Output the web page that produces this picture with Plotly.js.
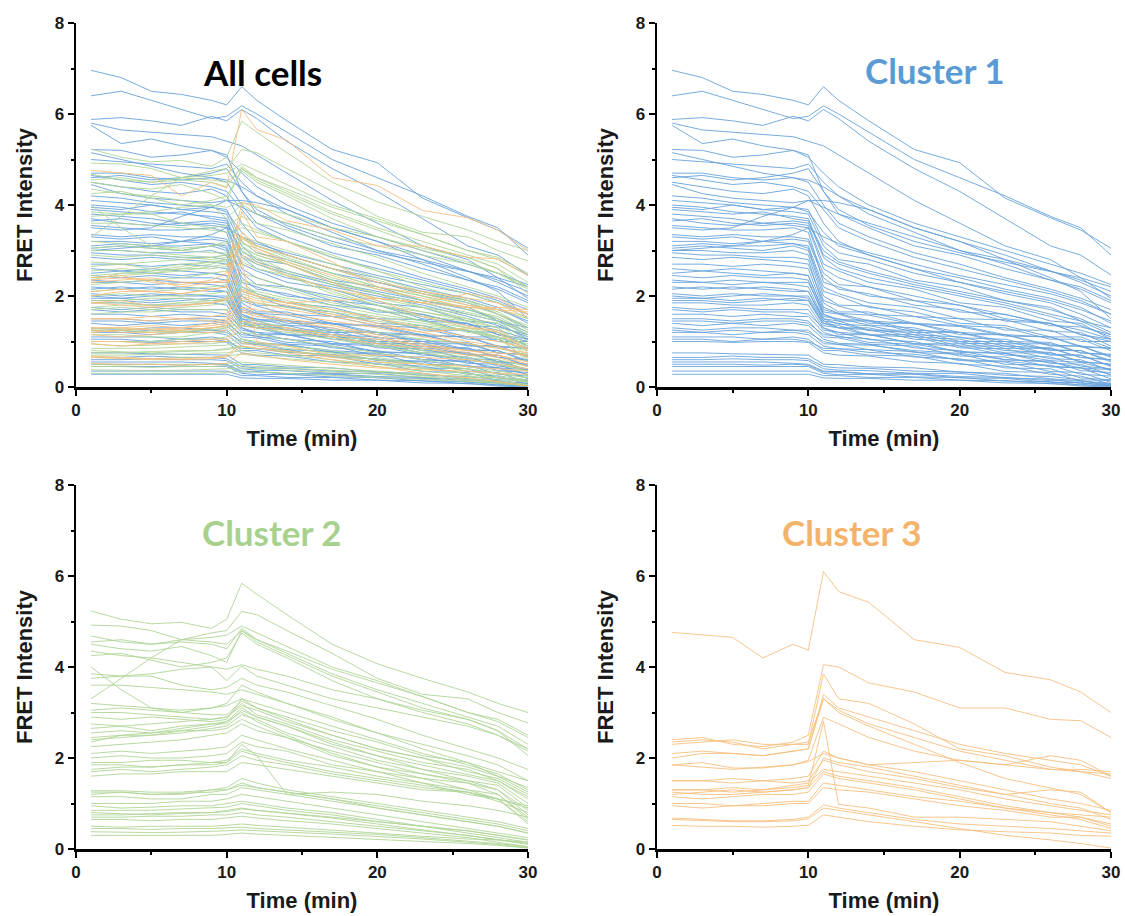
<!DOCTYPE html>
<html><head><meta charset="utf-8">
<script src="https://cdn.plot.ly/plotly-3.0.1.min.js"></script>
<style>html,body{margin:0;padding:0;background:#fff}#chart{width:1125px;height:916px}</style>
</head><body><div id="chart"></div>
<script>
// Time points (min) at which each trace is sampled
const timeMin = [1,3,5,7,9,10,11,12,14,17,20,23,26,28,30];
const panelTitles = ['All cells','Cluster 1','Cluster 2','Cluster 3'];
const xTickVals = [0,10,20,30];
const yTickVals = [0,2,4,6,8];
const xAxisTitle = 'Time (min)';
const yAxisTitle = 'FRET Intensity';

// Cluster 1 (blue) FRET intensity traces
const cluster1 = [
 [6.96,6.8,6.5,6.43,6.3,6.2,6.6,6.3,5.85,5.22,4.93,4.15,3.72,3.45,3.05],
 [6.4,6.5,6.3,6.1,5.9,5.95,6.18,6.0,5.6,5.0,4.6,4.2,3.75,3.5,2.9],
 [5.88,5.92,5.85,5.75,5.95,5.85,6.1,5.9,5.4,4.8,4.3,3.7,3.1,2.9,2.46],
 [5.8,5.65,5.6,5.55,5.5,5.4,5.3,5.1,4.7,4.1,3.6,3.1,2.8,2.4,1.95],
 [5.75,5.35,5.45,5.3,5.2,5.05,4.7,4.4,4.0,3.6,3.3,3.0,2.7,2.5,2.25],
 [5.22,5.2,5.05,5.1,5.2,5.1,4.3,3.8,3.5,3.1,2.9,2.6,2.35,2.2,1.9],
 [5.15,5.0,4.85,4.7,4.6,4.55,4.4,4.2,3.9,3.5,3.2,2.8,2.4,2.1,1.5],
 [5.0,4.95,4.9,4.85,4.8,4.9,4.5,4.2,3.8,3.4,3.0,2.7,2.35,2.15,1.85],
 [4.7,4.7,4.6,4.55,4.6,4.5,4.0,3.6,3.3,2.95,2.7,2.4,2.15,1.95,1.7],
 [4.65,4.55,4.45,4.5,4.4,4.3,3.9,3.5,3.2,2.85,2.6,2.35,2.1,1.9,1.6],
 [4.5,4.4,4.3,4.25,4.35,4.2,3.6,3.2,2.9,2.6,2.3,2.05,1.85,1.6,1.3],
 [4.45,4.25,4.15,4.1,4.05,4.1,4.1,4.05,3.9,3.5,3.2,2.9,2.55,2.35,2.1],
 [4.2,4.15,4.05,4.0,3.95,3.9,3.2,2.95,2.8,2.5,2.3,2.1,1.9,1.7,1.45],
 [4.1,4.05,4.0,3.9,3.95,3.85,3.4,3.1,2.9,2.6,2.4,2.15,1.95,1.75,1.4],
 [4.0,3.95,3.85,3.8,3.75,3.7,2.9,2.7,2.5,2.25,2.05,1.85,1.6,1.45,1.15],
 [3.9,3.85,3.8,3.85,3.7,3.65,2.85,2.6,2.4,2.2,2.0,1.8,1.55,1.35,1.1],
 [3.8,3.75,3.7,3.6,3.55,3.5,2.6,2.4,2.2,2.0,1.8,1.6,1.4,1.25,1.05],
 [3.7,3.6,3.55,3.6,3.65,3.6,3.0,2.75,2.55,2.3,2.1,1.9,1.7,1.5,1.2],
 [3.55,3.5,3.45,3.45,3.5,3.4,2.3,2.2,2.0,1.9,1.65,1.6,1.35,1.32,1.15],
 [3.5,3.45,3.5,3.75,3.95,4.1,3.95,3.8,3.6,3.3,3.0,2.8,2.55,2.3,2.0],
 [3.3,3.25,3.3,3.2,3.25,3.2,2.4,2.15,2.05,1.8,1.7,1.45,1.4,1.15,1.05],
 [3.2,3.2,3.15,3.2,3.15,3.1,2.2,2.05,1.85,1.75,1.5,1.48,1.22,1.2,0.9],
 [3.05,3.1,3.05,3.0,3.1,3.0,2.0,1.8,1.78,1.55,1.5,1.25,1.25,1.0,1.0],
 [3.0,3.0,2.95,2.95,3.0,2.9,1.9,1.78,1.6,1.55,1.35,1.3,1.05,1.05,0.8],
 [2.95,2.9,2.9,2.85,2.85,2.8,1.75,1.62,1.58,1.38,1.33,1.12,1.1,0.88,0.85],
 [2.7,2.7,2.65,2.7,2.65,2.6,1.7,1.62,1.45,1.4,1.2,1.15,0.92,0.9,0.68],
 [2.6,2.55,2.6,2.55,2.5,2.45,1.6,1.48,1.47,1.25,1.2,1.0,0.98,0.75,0.72],
 [2.45,2.4,2.45,2.4,2.4,2.35,1.55,1.5,1.36,1.3,1.08,1.05,0.82,0.8,0.58],
 [2.3,2.3,2.25,2.3,2.25,2.2,1.5,1.38,1.35,1.15,1.1,0.9,0.86,0.65,0.6],
 [2.2,2.15,2.2,2.15,2.1,2.1,1.45,1.4,1.24,1.2,0.96,0.95,0.72,0.7,0.46],
 [2.05,2.0,2.05,2.0,2.0,1.95,1.4,1.3,1.26,1.05,1.0,0.8,0.76,0.56,0.5],
 [1.95,1.95,1.9,1.95,1.9,1.9,1.35,1.3,1.14,1.1,0.86,0.84,0.62,0.6,0.36],
 [1.85,1.85,1.8,1.8,1.85,1.8,1.3,1.2,1.16,0.95,0.9,0.7,0.66,0.46,0.4],
 [1.75,1.7,1.75,1.7,1.7,1.7,1.25,1.2,1.04,1.0,0.76,0.74,0.52,0.5,0.26],
 [1.6,1.6,1.55,1.6,1.55,1.55,1.2,1.1,1.06,0.86,0.8,0.6,0.57,0.36,0.32],
 [1.5,1.5,1.45,1.5,1.5,1.45,1.1,1.08,0.94,0.9,0.68,0.66,0.44,0.42,0.18],
 [1.4,1.35,1.4,1.35,1.4,1.35,1.05,0.96,0.94,0.76,0.72,0.5,0.48,0.28,0.24],
 [1.3,1.25,1.3,1.3,1.25,1.25,0.95,0.94,0.82,0.78,0.58,0.55,0.34,0.32,0.1],
 [1.2,1.2,1.15,1.2,1.2,1.15,0.9,0.84,0.82,0.66,0.62,0.42,0.4,0.2,0.16],
 [1.1,1.1,1.1,1.05,1.1,1.05,0.8,0.8,0.7,0.68,0.5,0.46,0.28,0.24,0.06],
 [1.0,1.0,0.98,1.0,1.0,0.98,0.75,0.7,0.68,0.55,0.52,0.34,0.32,0.13,0.08],
 [0.75,0.75,0.73,0.72,0.72,0.7,0.5,0.49,0.44,0.42,0.33,0.3,0.18,0.14,0.03],
 [0.6,0.6,0.62,0.6,0.6,0.58,0.4,0.37,0.36,0.3,0.3,0.2,0.17,0.08,0.05],
 [0.55,0.55,0.55,0.55,0.52,0.5,0.35,0.34,0.29,0.28,0.2,0.19,0.1,0.1,0.02],
 [0.45,0.45,0.45,0.45,0.45,0.45,0.3,0.27,0.28,0.22,0.21,0.13,0.12,0.04,0.03],
 [0.35,0.35,0.35,0.35,0.35,0.35,0.25,0.25,0.21,0.21,0.15,0.14,0.07,0.06,0.01],
 [0.28,0.28,0.28,0.28,0.28,0.28,0.2,0.19,0.19,0.15,0.15,0.09,0.08,0.02,0.0],
 [3.95,3.9,4.0,3.9,3.85,3.8,3.1,2.8,2.7,2.35,2.2,1.9,1.75,1.45,1.3],
 [3.65,3.7,3.6,3.55,3.6,3.55,2.7,2.55,2.3,2.15,1.85,1.75,1.45,1.4,1.05],
 [3.35,3.3,3.35,3.3,3.3,3.25,2.5,2.25,2.2,1.9,1.8,1.5,1.4,1.15,1.0],
 [3.1,3.15,3.1,3.1,3.15,3.05,2.1,2.0,1.75,1.65,1.4,1.35,1.1,1.1,0.85],
 [2.85,2.8,2.85,2.8,2.75,2.7,1.85,1.65,1.65,1.4,1.35,1.15,1.1,0.9,0.85],
 [2.5,2.55,2.5,2.45,2.5,2.45,1.65,1.6,1.4,1.4,1.15,1.15,0.9,0.9,0.65],
 [2.35,2.3,2.35,2.3,2.3,2.3,1.6,1.45,1.45,1.2,1.2,0.95,0.95,0.75,0.7],
 [2.15,2.2,2.15,2.2,2.15,2.1,1.5,1.45,1.25,1.25,1.0,1.0,0.8,0.8,0.55],
 [2.0,1.95,2.0,2.05,2.0,2.0,1.45,1.3,1.3,1.1,1.05,0.85,0.85,0.65,0.6],
 [1.9,1.9,1.85,1.9,1.95,1.9,1.4,1.35,1.15,1.15,0.9,0.9,0.7,0.7,0.45],
 [1.7,1.65,1.7,1.65,1.65,1.6,1.3,1.15,1.15,0.95,0.95,0.75,0.75,0.55,0.5],
 [1.45,1.45,1.4,1.45,1.45,1.4,1.15,1.12,0.98,0.94,0.78,0.74,0.58,0.54,0.38],
 [1.25,1.2,1.25,1.2,1.25,1.2,1.0,0.93,0.92,0.8,0.74,0.6,0.55,0.42,0.38],
 [1.05,1.05,1.0,1.05,1.05,1.0,0.85,0.84,0.76,0.72,0.6,0.57,0.46,0.42,0.28],
 [0.65,0.65,0.68,0.65,0.65,0.62,0.45,0.42,0.41,0.35,0.33,0.26,0.23,0.16,0.14],
 [0.5,0.5,0.5,0.48,0.5,0.48,0.33,0.33,0.29,0.29,0.23,0.21,0.14,0.13,0.06],
 [4.6,4.65,4.55,4.6,4.7,4.8,4.3,3.9,3.55,3.2,2.95,2.75,2.55,2.4,2.2],
 [3.0,3.05,3.1,3.2,3.35,3.5,3.3,3.15,2.95,2.7,2.45,2.25,2.05,1.85,1.6]
];

// Cluster 2 (green) FRET intensity traces
const cluster2 = [
 [5.23,5.05,4.95,4.98,4.85,5.05,5.84,5.6,5.15,4.5,4.07,3.75,3.45,3.2,3.0],
 [4.92,4.9,4.8,4.6,4.75,4.8,5.22,5.15,4.8,4.3,3.75,3.4,3.3,3.0,2.77],
 [4.68,4.55,4.5,4.6,4.65,4.7,4.9,4.75,4.45,4.0,3.7,3.35,3.0,2.8,2.45],
 [4.5,4.4,4.35,4.45,4.25,4.1,4.8,4.6,4.3,3.85,3.5,3.2,2.9,2.7,2.3],
 [4.35,4.25,4.2,4.1,4.0,3.95,4.05,3.95,3.8,3.5,3.3,3.0,2.75,2.5,2.2],
 [4.25,4.3,4.15,4.0,4.1,4.2,4.75,4.5,4.2,3.7,3.3,3.05,2.85,2.6,2.05],
 [3.3,3.75,4.2,4.6,4.55,4.5,4.8,4.55,4.25,3.8,3.45,3.1,2.85,2.6,2.2],
 [3.85,3.8,3.85,3.95,4.0,3.7,4.02,3.8,3.6,3.3,3.1,2.9,2.7,2.5,2.15],
 [3.75,3.8,3.8,3.6,3.5,3.55,3.75,3.6,3.45,3.15,2.85,2.5,2.2,2.0,1.75],
 [3.6,3.6,3.55,3.5,3.45,3.4,3.5,3.4,3.2,2.9,2.55,2.2,1.9,1.7,1.5],
 [4.0,3.5,3.1,3.0,3.1,3.15,3.3,3.2,3.0,2.7,2.4,2.1,1.85,1.65,1.3],
 [3.05,3.1,3.05,3.0,2.95,2.95,3.25,3.1,2.9,2.6,2.35,2.05,1.9,1.6,1.35],
 [3.0,3.0,2.95,2.9,2.85,2.9,3.15,3.05,2.8,2.5,2.2,2.0,1.7,1.55,1.2],
 [2.75,2.7,2.75,2.8,2.85,2.9,3.2,2.95,2.75,2.4,2.15,1.9,1.75,1.5,1.1],
 [2.55,2.6,2.55,2.6,2.7,2.8,3.1,2.9,2.7,2.3,2.05,1.75,1.6,1.45,1.0],
 [2.45,2.5,2.5,2.55,2.65,2.7,2.95,2.85,2.55,2.25,1.95,1.75,1.5,1.4,0.9],
 [2.4,2.45,2.5,2.6,2.6,2.65,2.85,2.7,2.45,2.15,1.9,1.65,1.5,1.3,0.85],
 [2.35,2.5,2.55,2.65,2.75,2.8,3.0,2.8,2.5,2.1,1.8,1.65,1.45,1.3,0.75],
 [2.25,2.3,2.35,2.4,2.5,2.55,2.75,2.6,2.45,2.05,1.8,1.55,1.45,1.2,0.7],
 [2.1,2.15,2.1,2.15,2.2,2.25,2.5,2.4,2.2,1.95,1.7,1.55,1.3,1.2,0.65],
 [2.0,2.05,2.0,2.0,2.05,2.1,2.35,2.25,2.15,1.85,1.7,1.45,1.3,1.1,0.6],
 [1.9,1.9,1.95,1.95,1.9,1.95,2.2,2.1,1.95,1.8,1.6,1.45,1.2,1.1,0.55],
 [1.85,1.85,1.8,1.85,1.9,1.9,2.3,2.05,1.2,1.25,1.2,1.05,0.95,0.85,0.7],
 [1.7,1.75,1.7,1.75,1.8,1.85,2.05,1.95,1.85,1.65,1.5,1.35,1.25,1.1,0.9],
 [1.6,1.65,1.65,1.7,1.7,1.7,1.9,1.85,1.75,1.6,1.45,1.3,1.25,1.05,0.8],
 [1.28,1.28,1.25,1.25,1.3,1.35,1.55,1.45,1.3,1.15,1.0,0.85,0.7,0.6,0.45],
 [1.25,1.25,1.2,1.2,1.3,1.3,1.45,1.35,1.25,1.1,0.9,0.75,0.6,0.5,0.35],
 [1.15,1.15,1.1,1.1,1.2,1.2,1.35,1.3,1.2,1.05,0.9,0.75,0.6,0.5,0.35],
 [1.0,1.0,1.0,1.05,1.05,1.1,1.2,1.15,1.05,0.9,0.75,0.6,0.45,0.35,0.25],
 [0.95,0.9,0.92,0.95,0.95,1.0,1.05,1.0,0.9,0.8,0.65,0.5,0.4,0.3,0.2],
 [0.85,0.85,0.85,0.88,0.9,0.92,1.0,0.95,0.85,0.75,0.6,0.5,0.35,0.25,0.15],
 [0.8,0.78,0.75,0.78,0.8,0.85,0.9,0.85,0.78,0.68,0.55,0.42,0.3,0.22,0.12],
 [0.7,0.7,0.72,0.72,0.75,0.75,0.8,0.75,0.7,0.6,0.5,0.4,0.3,0.2,0.1],
 [0.65,0.65,0.62,0.65,0.65,0.68,0.72,0.68,0.62,0.55,0.45,0.35,0.25,0.15,0.05],
 [0.5,0.48,0.5,0.5,0.5,0.52,0.55,0.52,0.48,0.42,0.35,0.28,0.22,0.2,0.15],
 [0.45,0.45,0.43,0.45,0.45,0.46,0.48,0.45,0.42,0.38,0.32,0.25,0.18,0.12,0.05],
 [0.38,0.37,0.36,0.37,0.38,0.4,0.42,0.4,0.37,0.33,0.28,0.22,0.15,0.1,0.03],
 [0.3,0.3,0.3,0.3,0.3,0.32,0.35,0.33,0.3,0.27,0.22,0.17,0.12,0.08,0.02],
 [4.55,4.6,4.5,4.55,4.5,4.4,4.85,4.6,4.35,3.95,3.65,3.35,3.0,2.85,2.5],
 [2.65,2.7,2.6,2.7,2.75,2.75,3.05,2.9,2.7,2.35,2.05,1.85,1.65,1.5,1.15],
 [2.9,2.85,2.9,2.85,2.8,2.85,3.3,3.1,2.85,2.5,2.2,2.0,1.8,1.6,1.25],
 [3.2,3.15,3.1,3.05,3.1,3.2,3.6,3.45,3.2,2.85,2.55,2.3,2.05,1.85,1.5],
 [1.2,1.25,1.2,1.22,1.25,1.3,1.4,1.35,1.25,1.1,0.95,0.8,0.65,0.55,0.4],
 [0.75,0.75,0.78,0.8,0.8,0.82,0.88,0.85,0.8,0.7,0.6,0.5,0.4,0.3,0.2],
 [1.75,1.8,1.8,1.85,1.85,1.9,2.15,2.05,1.9,1.7,1.55,1.4,1.25,1.1,0.95]
];

// Cluster 3 (orange) FRET intensity traces
const cluster3 = [
 [4.76,4.7,4.65,4.2,4.5,4.37,6.1,5.66,5.42,4.6,4.43,3.88,3.72,3.45,3.0],
 [2.4,2.45,2.3,2.25,2.35,2.5,4.05,4.0,3.65,3.45,3.1,3.1,2.85,2.82,2.45],
 [2.35,2.4,2.35,2.2,2.3,2.3,3.85,3.3,3.2,2.75,2.2,2.05,1.8,1.7,1.65],
 [2.1,2.15,2.1,2.05,2.15,2.2,3.4,3.1,2.9,2.6,2.3,2.1,1.95,1.85,1.6],
 [2.0,2.1,2.1,2.05,2.15,2.2,3.3,3.05,2.75,2.45,2.15,1.95,1.75,1.7,1.55],
 [1.85,1.8,1.75,1.8,1.85,1.95,2.9,2.75,2.45,2.15,1.95,1.85,2.05,1.95,1.6],
 [1.3,1.3,1.25,1.3,1.35,1.4,2.8,0.98,0.9,0.7,0.7,0.65,0.6,0.5,0.4],
 [1.5,1.5,1.55,1.5,1.55,1.6,2.15,2.0,1.85,1.7,1.5,1.3,1.1,1.0,0.85],
 [1.3,1.3,1.35,1.3,1.4,1.45,1.75,1.7,1.6,1.45,1.3,1.1,0.95,0.85,0.75],
 [1.25,1.2,1.2,1.25,1.3,1.35,1.7,1.6,1.5,1.35,1.15,0.95,0.8,0.7,0.5],
 [1.15,1.1,1.15,1.2,1.2,1.25,1.65,1.55,1.45,1.3,1.1,0.9,0.75,0.65,0.45],
 [1.85,1.9,1.78,1.78,1.85,1.92,2.1,2.0,1.85,1.9,1.95,1.85,1.75,1.75,1.7],
 [1.0,1.0,0.95,1.0,1.05,1.05,1.45,1.4,1.3,1.15,1.05,0.9,0.8,0.75,0.7],
 [0.95,0.9,0.95,0.95,1.0,1.0,1.35,1.3,1.25,1.1,0.95,0.85,0.7,0.7,0.55],
 [0.68,0.65,0.62,0.62,0.65,0.7,0.97,0.9,0.8,0.65,0.55,0.5,0.45,0.4,0.35],
 [0.65,0.63,0.6,0.6,0.62,0.66,0.9,0.85,0.75,0.6,0.45,0.3,0.2,0.12,0.02],
 [0.52,0.5,0.5,0.48,0.5,0.52,0.75,0.7,0.6,0.5,0.42,0.38,0.35,0.3,0.28],
 [1.5,1.5,1.45,1.5,1.45,1.5,1.95,1.85,1.7,1.55,1.35,1.2,1.3,1.25,0.8],
 [1.2,1.25,1.3,1.25,1.3,1.35,2.0,1.9,1.8,1.6,1.4,1.2,1.0,0.9,0.65],
 [2.3,2.35,2.4,2.3,2.3,2.35,3.3,3.0,2.7,2.3,1.9,1.55,1.35,1.2,0.8]
];

const lineColors = ['#68a3da','#b0d597','#f6bf80'];
const titleColors = ['#000000','#5b9bd5','#a9d18e','#f4b36a'];

const W = 1125, H = 916;
// plot-area pixel boxes [left, right, top, bottom]
const boxes = [[76,528,23,387],[657,1111,23,387],[76,528,485,849],[657,1111,485,849]];

const traces = [];
function addCluster(lines, color, axisIdx){
  const sfx = axisIdx === 1 ? '' : String(axisIdx);
  lines.forEach(v => traces.push({
    x: timeMin, y: v, type: 'scatter', mode: 'lines',
    xaxis: 'x' + sfx, yaxis: 'y' + sfx,
    line: {color: color, width: 0.9}, hoverinfo: 'skip', showlegend: false
  }));
}
const clusters = [cluster1, cluster2, cluster3];
clusters.forEach((c, i) => addCluster(c, lineColors[i], 1));
clusters.forEach((c, i) => addCluster(c, lineColors[i], i + 2));

const tickFont = {family: 'Liberation Sans, Arial, sans-serif', size: 17, color: '#1a1a1a', weight: 'bold'};
const titleFont = {family: 'Liberation Sans, Arial, sans-serif', size: 22, color: '#1a1a1a', weight: 'bold'};

const layout = {
  width: W, height: H, margin: {l: 0, r: 0, t: 0, b: 0},
  paper_bgcolor: '#fff', plot_bgcolor: 'rgba(0,0,0,0)', showlegend: false,
  annotations: []
};
boxes.forEach((b, i) => {
  const sfx = i === 0 ? '' : String(i + 1);
  layout['xaxis' + sfx] = {
    domain: [b[0] / W, b[1] / W], anchor: 'y' + sfx, range: [0, 30],
    tickmode: 'array', tickvals: xTickVals, ticks: 'outside', ticklen: 6, tickwidth: 2, tickcolor: '#000',
    minor: {tickmode: 'array', tickvals: [5, 15, 25], ticks: 'outside', ticklen: 3, tickwidth: 2, tickcolor: '#000'},
    showline: true, linewidth: 2.5, linecolor: '#000', showgrid: false, zeroline: false,
    tickfont: tickFont, title: {text: xAxisTitle, font: titleFont, standoff: 12}
  };
  layout['yaxis' + sfx] = {
    domain: [1 - b[3] / H, 1 - b[2] / H], anchor: 'x' + sfx, range: [0, 8],
    tickmode: 'array', tickvals: yTickVals, ticks: 'outside', ticklen: 6, tickwidth: 2, tickcolor: '#000',
    minor: {tickmode: 'array', tickvals: [1, 3, 5, 7], ticks: 'outside', ticklen: 3, tickwidth: 2, tickcolor: '#000'},
    showline: true, linewidth: 2.5, linecolor: '#000', showgrid: false, zeroline: false,
    tickfont: tickFont, title: {text: yAxisTitle, font: titleFont, standoff: 16}
  };
});
// panel titles
const titlePos = [[262, 72], [935, 70], [272, 532], [852, 532]];
panelTitles.forEach((t, i) => {
  layout.annotations.push({
    text: t, xref: 'paper', yref: 'paper', x: titlePos[i][0] / W, y: 1 - titlePos[i][1] / H,
    xanchor: 'center', yanchor: 'middle', showarrow: false,
    font: {family: 'Lato, Open Sans, sans-serif', size: 35, color: titleColors[i], weight: 'bold'}
  });
});

Plotly.newPlot('chart', traces, layout, {displayModeBar: false, staticPlot: true});
</script>
</body></html>
